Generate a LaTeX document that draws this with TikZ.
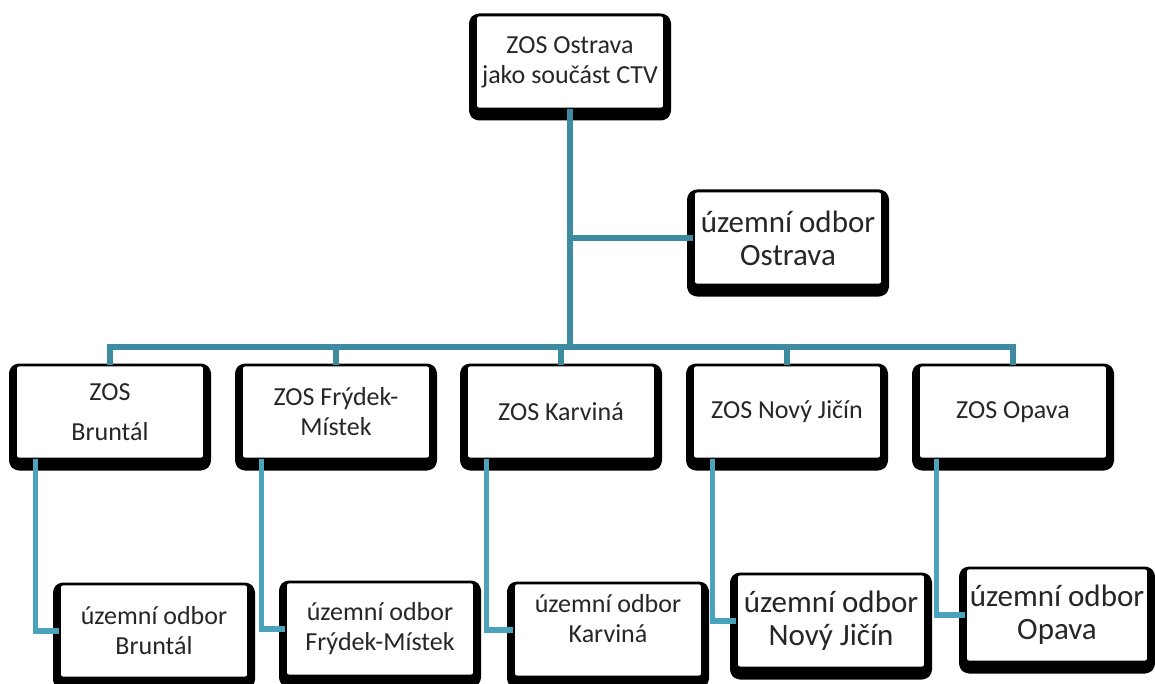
\documentclass[tikz,border=0pt]{standalone}
\usepackage{fontspec}
\setmainfont{Carlito}
\usepackage[dvipsnames]{xcolor}
\definecolor{TrunkTeal}{RGB}{62,138,158}
\definecolor{BranchTeal}{RGB}{75,163,187}

\begin{document}
\begin{tikzpicture}[x=0.5pt,y=-0.5pt,
	orgbox/.style={rectangle, rounded corners=1.5pt, draw=black, line width=0.8pt, fill=white, align=center, inner sep=0pt, minimum width=94pt, minimum height=46.5pt, text=black!85,
		preaction={draw=black, line width=7pt, line join=round, transform canvas={yshift=-2.5pt}}},
	smalltext/.style={font=\fontsize{13}{15}\selectfont},
	bigtext/.style={font=\fontsize{15.5}{16.5}\selectfont},
	topline/.style={draw=TrunkTeal, line width=3pt},
	subline/.style={draw=BranchTeal, line width=2.6pt}]
	\useasboundingbox (0,0) rectangle (1155,684);

	% top level
	\node (ctv)[orgbox,smalltext] at (570,62) {ZOS Ostrava\\jako součást CTV};
	\node (uoostr)[orgbox,bigtext] at (788,238) {územní odbor\\Ostrava};

	% ZOS row
	\node (zosbr)[orgbox,smalltext] at (110,412) {ZOS\\[5pt]Bruntál};
	\node (zosfm)[orgbox,smalltext] at (336,412) {ZOS Frýdek-\\Místek};
	\node (zoska)[orgbox,smalltext] at (561,412) {ZOS Karviná};
	\node (zosnj)[orgbox,smalltext] at (787,412) {ZOS Nový Jičín};
	\node (zosop)[orgbox,smalltext] at (1013,412) {ZOS Opava};

	% územní odbory
	\node (uobr)[orgbox,smalltext] at (154,631) {územní odbor\\Bruntál};
	\node (uofm)[orgbox,smalltext] at (380,629) {územní odbor\\Frýdek-Místek};
	\node (uoka)[orgbox,smalltext] at (608,630) {územní odbor\\Karviná\rule[-12pt]{0pt}{0pt}};
	\node (uonj)[orgbox,bigtext] at (831,621) {územní odbor\\Nový Jičín};
	\node (uoop)[orgbox,bigtext,minimum width=91pt] at (1057,615) {územní odbor\\Opava};

	% connectors
	\coordinate (bar) at (569,347);
	\draw[topline] (ctv.south) -- (ctv.south |- bar);
	\draw[topline] (ctv.south |- uoostr.west) -- (uoostr.west);
	\draw[topline] (zosbr.north) -- (zosbr.north |- bar) -- (zosop.north |- bar) -- (zosop.north);
	\foreach \z in {zosfm,zoska,zosnj}
		\draw[topline] (\z.north) -- (\z.north |- bar);
	\draw[subline] ([xshift=10pt]zosbr.south west) |- (uobr.west);
	\draw[subline] ([xshift=10pt]zosfm.south west) |- (uofm.west);
	\draw[subline] ([xshift=10pt]zoska.south west) |- (uoka.west);
	\draw[subline] ([xshift=10pt]zosnj.south west) |- (uonj.west);
	\draw[subline] ([xshift=9pt]zosop.south west) |- (uoop.west);
\end{tikzpicture}
\end{document}
